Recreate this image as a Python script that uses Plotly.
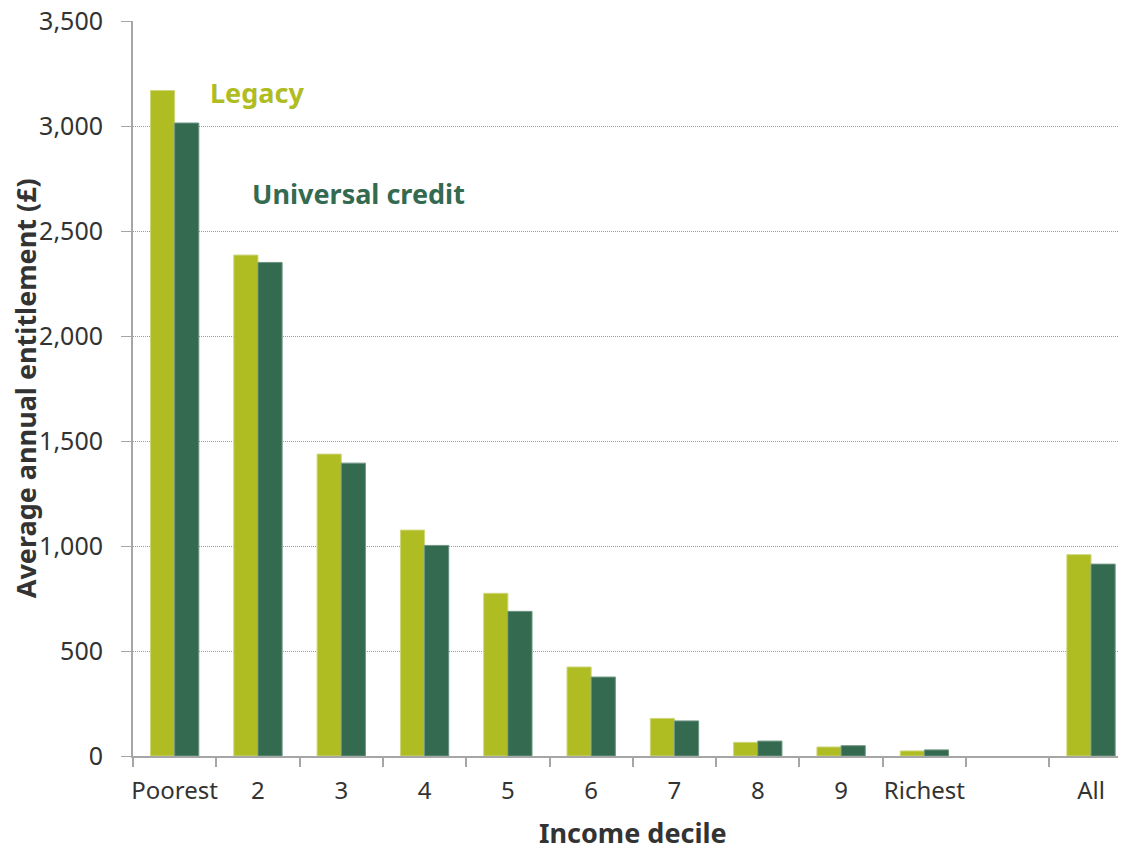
import plotly.graph_objects as go

categories = ["Poorest", "2", "3", "4", "5", "6", "7", "8", "9", "Richest", " ", "All"]
legacy = [3170, 2386, 1438, 1076, 775, 424, 179, 65, 43, 24, None, 959]
universal_credit = [3015, 2351, 1395, 1003, 689, 376, 167, 71, 49, 29, None, 914]

LEGACY_COLOR = "#AFBC22"
UC_COLOR = "#336A50"
FONT = "Noto Sans"
TEXT_COLOR = "#333333"

fig = go.Figure()
fig.add_trace(go.Bar(x=categories, y=legacy, name="Legacy",
                     marker=dict(color=LEGACY_COLOR, line=dict(color="#cdd77a", width=1))))
fig.add_trace(go.Bar(x=categories, y=universal_credit, name="Universal credit",
                     marker=dict(color=UC_COLOR, line=dict(color="#6f9583", width=1))))

fig.add_annotation(x=0.4, y=3162, xref="x", yref="y", text="<b>Legacy</b>",
                   showarrow=False, xanchor="left", yanchor="middle",
                   font=dict(family=FONT, size=27, color=LEGACY_COLOR))
fig.add_annotation(x=0.905, y=2681, xref="x", yref="y", text="<b>Universal credit</b>",
                   showarrow=False, xanchor="left", yanchor="middle",
                   font=dict(family=FONT, size=27, color=UC_COLOR))

# axis titles
fig.add_annotation(x=-0.108, y=0.5, xref="paper", yref="paper",
                   text="<b>Average annual entitlement (£)</b>", textangle=-90,
                   showarrow=False, xanchor="center", yanchor="middle",
                   font=dict(family=FONT, size=27, color=TEXT_COLOR))
fig.add_annotation(x=0.5035, y=-0.1035, xref="paper", yref="paper",
                   text="<b>Income decile</b>",
                   showarrow=False, xanchor="center", yanchor="middle",
                   font=dict(family=FONT, size=27, color=TEXT_COLOR))

fig.update_layout(
    width=1118, height=838,
    margin=dict(l=125, r=0, t=13, b=90),
    paper_bgcolor="white", plot_bgcolor="white",
    barmode="group", bargap=0.42, bargroupgap=0,
    showlegend=False,
    font=dict(family=FONT, size=24, color=TEXT_COLOR),
)
fig.update_xaxes(
    type="category", categoryorder="array", categoryarray=categories,
    range=[-0.5, 11.42], automargin=False, tickangle=0,
    showline=True, linecolor="#a6a6a6", linewidth=2,
    ticks="outside", tickson="boundaries", ticklen=9, tickcolor="#a6a6a6", tickwidth=2,
    ticklabelstandoff=12,
    tickfont=dict(family=FONT, size=24, color=TEXT_COLOR),
    showgrid=False,
)
fig.update_yaxes(
    range=[0, 3501], tickvals=[0, 500, 1000, 1500, 2000, 2500, 3000, 3500],
    tickformat=",", automargin=False, ticklabeloverflow="allow",
    showline=True, linecolor="#a6a6a6", linewidth=2,
    ticks="outside", ticklen=10, tickcolor="#a6a6a6", tickwidth=1,
    ticklabelstandoff=13,
    tickfont=dict(family=FONT, size=25, color=TEXT_COLOR),
    showgrid=True, gridcolor="#999999", gridwidth=1, griddash="1px,1px",
    zeroline=False,
)

fig.write_html("out.html")
